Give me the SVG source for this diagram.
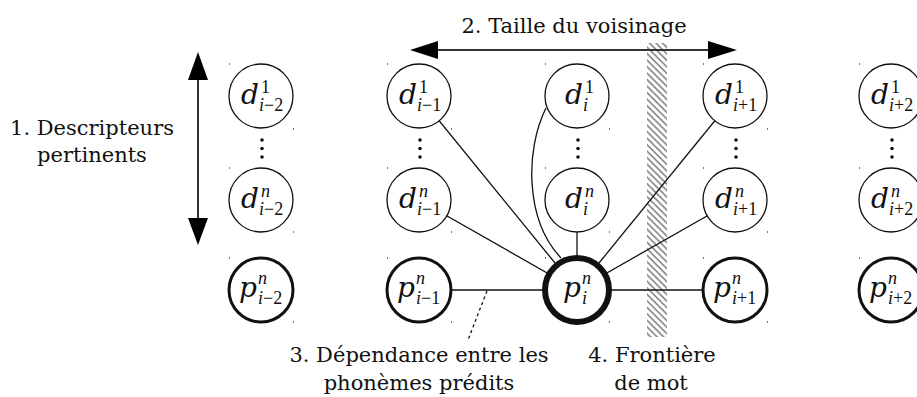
<svg xmlns="http://www.w3.org/2000/svg" width="917" height="397" viewBox="0 0 917 397">
<style>
.lbl{font-family:"DejaVu Serif",serif;font-size:21px;fill:#111}
.m{font-family:"DejaVu Serif",serif;font-style:italic;font-size:28px;fill:#111}
.s{font-family:"Liberation Serif",serif;font-size:18px;fill:#111}
.it{font-style:italic}
.d{fill:#fff;stroke:#111;stroke-width:1.3}
.p{fill:#fff;stroke:#111;stroke-width:3}
.pi{fill:#fff;stroke:#111;stroke-width:6}
.c{stroke:#111;stroke-width:1.3;fill:none}
.ar{stroke:#333;stroke-width:2}
.ah{fill:#000}
.dot{fill:#111}
.tk{fill:#777}
</style>
<defs>
<pattern id="hatch" patternUnits="userSpaceOnUse" width="4.6" height="4.6" patternTransform="rotate(-45)">
<line x1="1" y1="0" x2="1" y2="4.6" stroke="#222" stroke-width="0.9"/>
</pattern>
</defs>

<g id="connectors">
<line class="c" x1="419" y1="96" x2="577" y2="290"/>
<line class="c" x1="419" y1="200" x2="577" y2="290"/>
<path class="c" d="M546,108 C525,150 525,220 561,258"/>
<line class="c" x1="577" y1="200" x2="577" y2="290"/>
<line class="c" x1="735" y1="96" x2="577" y2="290"/>
<line class="c" x1="735" y1="200" x2="577" y2="290"/>
<line class="c" x1="419" y1="290" x2="577" y2="290"/>
<line class="c" x1="577" y1="290" x2="735" y2="290"/>
<line class="c" x1="487" y1="291" x2="468" y2="340" stroke-dasharray="3,3"/>
</g>

<g id="boundary">
<rect x="647" y="43" width="20" height="294" fill="url(#hatch)"/>
</g>

<g id="arrow-size">
<line class="ar" x1="436" y1="50" x2="710" y2="50"/>
<polygon class="ah" points="410,50 438,41 438,59"/>
<polygon class="ah" points="737,50 708,41 708,59"/>
<text class="lbl" x="574" y="33" text-anchor="middle">2. Taille du voisinage</text>
</g>

<g id="arrow-desc">
<line class="ar" x1="198" y1="78" x2="198" y2="220"/>
<polygon class="ah" points="198,52 188,80 208,80"/>
<polygon class="ah" points="198,245 188,218 208,218"/>
<text class="lbl" x="92" y="135" text-anchor="middle">1. Descripteurs</text>
<text class="lbl" x="92" y="162" text-anchor="middle">pertinents</text>
</g>

<g id="label-dep">
<text class="lbl" x="419" y="362" text-anchor="middle">3. Dépendance entre les</text>
<text class="lbl" x="419" y="390" text-anchor="middle">phonèmes prédits</text>
</g>
<g id="label-front">
<text class="lbl" x="652" y="362" text-anchor="middle">4. Frontière</text>
<text class="lbl" x="651" y="390" text-anchor="middle">de mot</text>
</g>

<!-- column i-2 -->
<g id="d1_im2"><circle class="d" cx="261" cy="96" r="32"/><text class="m" x="241" y="104">d</text><text class="s" x="261" y="93">1</text><text class="s" x="259" y="111"><tspan class="it">i</tspan>−2</text></g>
<g id="dots_im2"><circle class="dot" cx="262" cy="140" r="1.8"/><circle class="dot" cx="262" cy="148.5" r="1.8"/><circle class="dot" cx="262" cy="157" r="1.8"/></g>
<g id="dn_im2"><circle class="d" cx="261" cy="200" r="32"/><text class="m" x="241" y="208">d</text><text class="s it" x="261" y="197">n</text><text class="s" x="259" y="215"><tspan class="it">i</tspan>−2</text></g>
<g id="p_im2"><circle class="p" cx="261" cy="290" r="32"/><text class="m" x="239" y="297">p</text><text class="s it" x="258" y="284">n</text><text class="s" x="258" y="304"><tspan class="it">i</tspan>−2</text></g>

<!-- column i-1 -->
<g id="d1_im1"><circle class="d" cx="419" cy="96" r="32"/><text class="m" x="399" y="104">d</text><text class="s" x="419" y="93">1</text><text class="s" x="417" y="111"><tspan class="it">i</tspan>−1</text></g>
<g id="dots_im1"><circle class="dot" cx="420" cy="140" r="1.8"/><circle class="dot" cx="420" cy="148.5" r="1.8"/><circle class="dot" cx="420" cy="157" r="1.8"/></g>
<g id="dn_im1"><circle class="d" cx="419" cy="200" r="32"/><text class="m" x="399" y="208">d</text><text class="s it" x="419" y="197">n</text><text class="s" x="417" y="215"><tspan class="it">i</tspan>−1</text></g>
<g id="p_im1"><circle class="p" cx="419" cy="290" r="32"/><text class="m" x="397" y="297">p</text><text class="s it" x="416" y="284">n</text><text class="s" x="416" y="304"><tspan class="it">i</tspan>−1</text></g>

<!-- column i -->
<g id="d1_i"><circle class="d" cx="577" cy="96" r="32"/><text class="m" x="565" y="104">d</text><text class="s" x="585" y="93">1</text><text class="s it" x="583" y="111">i</text></g>
<g id="dots_i"><circle class="dot" cx="578" cy="140" r="1.8"/><circle class="dot" cx="578" cy="148.5" r="1.8"/><circle class="dot" cx="578" cy="157" r="1.8"/></g>
<g id="dn_i"><circle class="d" cx="577" cy="200" r="32"/><text class="m" x="565" y="208">d</text><text class="s it" x="585" y="197">n</text><text class="s it" x="583" y="215">i</text></g>
<g id="p_i"><circle class="pi" cx="577" cy="290" r="32"/><text class="m" x="563" y="297">p</text><text class="s it" x="582" y="284">n</text><text class="s it" x="582" y="304">i</text></g>

<!-- column i+1 -->
<g id="d1_ip1"><circle class="d" cx="735" cy="96" r="32"/><text class="m" x="715" y="104">d</text><text class="s" x="735" y="93">1</text><text class="s" x="733" y="111"><tspan class="it">i</tspan>+1</text></g>
<g id="dots_ip1"><circle class="dot" cx="736" cy="140" r="1.8"/><circle class="dot" cx="736" cy="148.5" r="1.8"/><circle class="dot" cx="736" cy="157" r="1.8"/></g>
<g id="dn_ip1"><circle class="d" cx="735" cy="200" r="32"/><text class="m" x="715" y="208">d</text><text class="s it" x="735" y="197">n</text><text class="s" x="733" y="215"><tspan class="it">i</tspan>+1</text></g>
<g id="p_ip1"><circle class="p" cx="735" cy="290" r="32"/><text class="m" x="713" y="297">p</text><text class="s it" x="732" y="284">n</text><text class="s" x="732" y="304"><tspan class="it">i</tspan>+1</text></g>

<!-- column i+2 -->
<g id="d1_ip2"><circle class="d" cx="891" cy="96" r="32"/><text class="m" x="871" y="104">d</text><text class="s" x="891" y="93">1</text><text class="s" x="889" y="111"><tspan class="it">i</tspan>+2</text></g>
<g id="dots_ip2"><circle class="dot" cx="892" cy="140" r="1.8"/><circle class="dot" cx="892" cy="148.5" r="1.8"/><circle class="dot" cx="892" cy="157" r="1.8"/></g>
<g id="dn_ip2"><circle class="d" cx="891" cy="200" r="32"/><text class="m" x="871" y="208">d</text><text class="s it" x="891" y="197">n</text><text class="s" x="889" y="215"><tspan class="it">i</tspan>+2</text></g>
<g id="p_ip2"><circle class="p" cx="891" cy="290" r="32"/><text class="m" x="869" y="297">p</text><text class="s it" x="888" y="284">n</text><text class="s" x="888" y="304"><tspan class="it">i</tspan>+2</text></g>

<g id="ticks">
<rect class="tk" x="229" y="63" width="1" height="2"/><rect class="tk" x="293" y="128" width="1" height="2"/>
<rect class="tk" x="229" y="167" width="1" height="2"/><rect class="tk" x="293" y="231" width="1" height="2"/>
<rect class="tk" x="229" y="257" width="1" height="2"/><rect class="tk" x="293" y="321" width="1" height="2"/>
<rect class="tk" x="387" y="63" width="1" height="2"/><rect class="tk" x="451" y="128" width="1" height="2"/>
<rect class="tk" x="387" y="167" width="1" height="2"/><rect class="tk" x="451" y="231" width="1" height="2"/>
<rect class="tk" x="387" y="257" width="1" height="2"/><rect class="tk" x="451" y="321" width="1" height="2"/>
<rect class="tk" x="545" y="63" width="1" height="2"/><rect class="tk" x="609" y="128" width="1" height="2"/>
<rect class="tk" x="545" y="167" width="1" height="2"/><rect class="tk" x="609" y="231" width="1" height="2"/>
<rect class="tk" x="545" y="257" width="1" height="2"/><rect class="tk" x="609" y="321" width="1" height="2"/>
<rect class="tk" x="703" y="63" width="1" height="2"/><rect class="tk" x="767" y="128" width="1" height="2"/>
<rect class="tk" x="703" y="167" width="1" height="2"/><rect class="tk" x="767" y="231" width="1" height="2"/>
<rect class="tk" x="703" y="257" width="1" height="2"/><rect class="tk" x="767" y="321" width="1" height="2"/>
<rect class="tk" x="859" y="63" width="1" height="2"/><rect class="tk" x="859" y="167" width="1" height="2"/><rect class="tk" x="859" y="257" width="1" height="2"/>
</g>
</svg>
